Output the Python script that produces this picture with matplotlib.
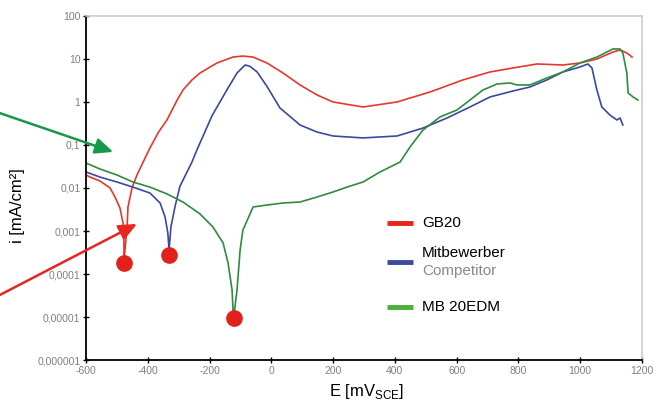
import matplotlib
matplotlib.use("Agg")
import matplotlib.pyplot as plt
from matplotlib.ticker import FixedLocator, NullLocator

plt.rcParams['font.family'] = ['Liberation Sans', 'DejaVu Sans']
plt.rcParams['axes.unicode_minus'] = False

# GB20 (red)
gb20_e = [-600, -587, -555, -522, -506, -490, -480, -477, -477, -467, -464,
          -451, -435, -415, -393, -365, -338, -305, -286, -257, -231, -176,
          -124, -92, -59, -14, 38, 93, 148, 200, 297, 407, 514, 620, 708,
          782, 860, 944, 999, 1054, 1106, 1129, 1151, 1168]
gb20_i = [0.0201, 0.018, 0.0146, 0.0100, 0.00617, 0.00343, 0.00153, 0.0005,
          0.0002, 0.00124, 0.00362, 0.0100, 0.020, 0.040, 0.085, 0.2,
          0.38, 1.1, 1.9, 3.25, 4.72, 8.07, 11.1, 11.7, 11.1, 8.07, 4.72,
          2.49, 1.46, 1.0, 0.765, 1.0, 1.71, 3.25, 4.99, 6.18, 7.65, 7.25,
          8.07, 10.0, 14.5, 16.2, 13.8, 11.1]

# Mitbewerber / Competitor (blue)
comp_e = [-600, -555, -500, -448, -393, -360, -344, -335, -331, -325, -312,
          -296, -257, -241, -192, -144, -111, -85, -70, -46, -14, 28, 93,
          148, 200, 297, 407, 491, 569, 643, 708, 782, 837, 892, 944, 999,
          1025, 1038, 1054, 1070, 1096, 1119, 1129, 1138]
comp_i = [0.0236, 0.018, 0.0138, 0.0105, 0.00765, 0.00448, 0.00212, 0.0009,
          0.00036, 0.00124, 0.00362, 0.0109, 0.040, 0.0764, 0.478, 1.9, 4.72,
          7.25, 6.8, 5.0, 2.3, 0.725, 0.292, 0.2, 0.162, 0.146, 0.162, 0.248,
          0.425, 0.765, 1.31, 1.8, 2.23, 3.25, 4.99, 6.51, 7.65, 6.18, 1.9,
          0.765, 0.499, 0.381, 0.425, 0.292]

# MB 20EDM (green)
mb_e = [-600, -555, -500, -448, -393, -338, -286, -231, -189, -156, -140,
        -127, -124, -121, -111, -101, -92, -59, -14, 38, 93, 148, 200, 245,
        297, 352, 417, 449, 491, 546, 601, 643, 685, 731, 773, 795, 837, 892,
        944, 999, 1054, 1106, 1129, 1138, 1151, 1155, 1171, 1187]
mb_i = [0.0381, 0.0277, 0.0201, 0.0138, 0.0105, 0.0073, 0.00472, 0.0025,
        0.00124, 0.000526, 0.00018, 4.25e-5, 1.46e-5, 1.1e-5, 4.25e-5,
        0.000362, 0.00105, 0.00362, 0.00402, 0.00448, 0.00472, 0.00617,
        0.00808, 0.0105, 0.0138, 0.0236, 0.0402, 0.0898, 0.223, 0.448, 0.652,
        1.11, 1.9, 2.62, 2.77, 2.49, 2.49, 3.61, 4.99, 8.07, 11.1, 17.1, 17.1,
        13.8, 4.72, 1.62, 1.31, 1.11]

# corrosion potentials (red dots)
ecorr_e = [-477, -331, -121]
ecorr_i = [1.8e-4, 2.75e-4, 9.5e-6]

y_ticks = [1e-6, 1e-5, 1e-4, 1e-3, 1e-2, 1e-1, 1, 10, 100]
y_labels = ["0,000001", "0,00001", "0,0001", "0,001", "0,01", "0,1", "1",
            "10", "100"]
x_ticks = [-600, -400, -200, 0, 200, 400, 600, 800, 1000, 1200]

RED = "#e2392f"
BLUE = "#3b48a0"
GREEN = "#2e8c3c"

fig = plt.figure(figsize=(6.67, 4.13), dpi=100)
ax = fig.add_axes([0.1289, 0.1283, 0.8336, 0.833])

ax.plot(gb20_e, gb20_i, color=RED, lw=1.2)
ax.plot(comp_e, comp_i, color=BLUE, lw=1.2)
ax.plot(mb_e, mb_i, color=GREEN, lw=1.2)
ax.plot(ecorr_e, ecorr_i, "o", color="#e3211b", ms=11, zorder=5)

ax.set_yscale("log")
ax.set_xlim(-600, 1200)
ax.set_ylim(1e-6, 100)
ax.yaxis.set_major_locator(FixedLocator(y_ticks))
ax.yaxis.set_minor_locator(NullLocator())
ax.set_yticklabels(y_labels)
ax.set_xticks(x_ticks)
ax.tick_params(axis="both", direction="inout", length=4, width=1,
               labelsize=7.5, labelcolor="#808080", pad=2)

for side in ["top", "right"]:
    ax.spines[side].set_color("#cccccc")
    ax.spines[side].set_linewidth(1.2)
for side in ["left", "bottom"]:
    ax.spines[side].set_linewidth(1.3)

ax.set_ylabel("i [mA/cm²]", fontsize=12)
ax.yaxis.set_label_coords(-0.11, 0.45)
ax.set_xlabel("E [mV$_{\\mathregular{SCE}}$]", fontsize=12)
ax.xaxis.set_label_coords(0.505, -0.065)

# legend drawn by hand
leg = [(0.398, "#e8221c"), (0.285, "#3a4a9c"), (0.154, "#4cae3c")]
for y, c in leg:
    ax.plot([0.541, 0.588], [y, y], color=c, lw=3.5, transform=ax.transAxes,
            solid_capstyle="butt")
ax.text(0.604, 0.398, "GB20", fontsize=11, va="center",
        transform=ax.transAxes)
ax.text(0.604, 0.311, "Mitbewerber", fontsize=11, va="center",
        transform=ax.transAxes)
ax.text(0.604, 0.259, "Competitor", fontsize=11, va="center", color="#888888",
        transform=ax.transAxes)
ax.text(0.604, 0.154, "MB 20EDM", fontsize=11, va="center",
        transform=ax.transAxes)

# arrows coming from outside the plot
arrow_style = "-|>,head_length=0.9,head_width=0.4"
ax.annotate("", xy=(-512, 0.069), xycoords="data",
            xytext=(0.0, 0.726), textcoords="figure fraction",
            arrowprops=dict(arrowstyle=arrow_style, color="#17994a", lw=1.8,
                            mutation_scale=12, shrinkA=0, shrinkB=0),
            annotation_clip=False)
ax.annotate("", xy=(-435, 1.46e-3), xycoords="data",
            xytext=(0.0, 0.286), textcoords="figure fraction",
            arrowprops=dict(arrowstyle=arrow_style, color="#e8261f", lw=1.8,
                            mutation_scale=12, shrinkA=0, shrinkB=0),
            annotation_clip=False)

fig.savefig("out.png", dpi=100)
